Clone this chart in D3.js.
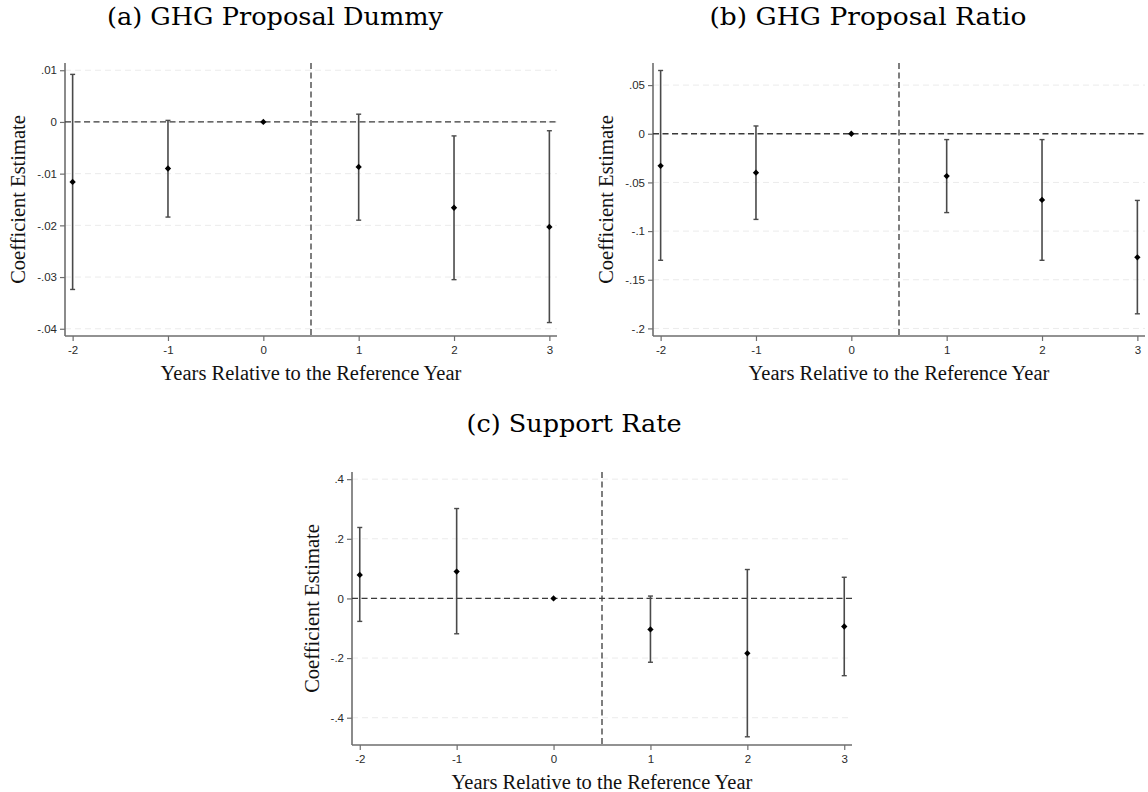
<!DOCTYPE html>
<html>
<head>
<meta charset="utf-8">
<script src="https://cdn.jsdelivr.net/npm/d3@7"></script>
<style>
  body { margin: 0; background: #fff; }
</style>
</head>
<body>
<div class="parentEventStudy"></div>
<script>
// event time (years relative to reference year)
let years = [-2, -1, 0, 1, 2, 3];

// (a) GHG proposal dummy
let dummyCoef = [-0.0116, -0.009, 0, -0.0087, -0.0166, -0.0203];
let dummyLo = [-0.0324, -0.0184, 0, -0.019, -0.0305, -0.0388];
let dummyHi = [0.0092, 0.0003, 0, 0.0015, -0.0027, -0.0017];
let dummyTicks = [0.01, 0, -0.01, -0.02, -0.03, -0.04];

// (b) GHG proposal ratio
let ratioCoef = [-0.033, -0.040, 0, -0.0435, -0.068, -0.127];
let ratioLo = [-0.130, -0.088, 0, -0.081, -0.130, -0.185];
let ratioHi = [0.065, 0.008, 0, -0.006, -0.006, -0.0685];
let ratioTicks = [0.05, 0, -0.05, -0.1, -0.15, -0.2];

// (c) support rate
let supportCoef = [0.079, 0.090, 0, -0.104, -0.184, -0.094];
let supportLo = [-0.077, -0.1185, 0, -0.214, -0.464, -0.259];
let supportHi = [0.238, 0.3015, 0, 0.008, 0.097, 0.071];
let supportTicks = [0.4, 0.2, 0, -0.2, -0.4];

let width = 1148;
let height = 792;

let svg = d3
  .select(".parentEventStudy")
  .append("svg")
  .attr("width", width)
  .attr("height", height);

// stata style labels: ".01", "-.04", "0"
function stataFormat(d) {
  if (d === 0) return "0";
  return String(+d.toFixed(4)).replace("0.", ".");
}

function eventPanel(opts) {
  let attrs = {
    left: opts.left,
    top: opts.top,
    plotWidth: opts.plotWidth,
    plotHeight: 273,
    xDomain: [-2.08, 3.08],
    yDomain: opts.yDomain,
    axisColor: "#6e6e6e",
    gridColor: "#ebebeb",
    barColor: "#4a4a4a",
    refColor: "#3a3a3a",
    tickFont: "Liberation Sans, Arial, sans-serif",
    labelFont: "Liberation Serif, Times New Roman, serif",
    titleFont: "DejaVu Serif, serif",
  };

  let g = svg
    .append("g")
    .attr("transform", "translate(" + attrs.left + "," + attrs.top + ")");

  let x = d3.scaleLinear().domain(attrs.xDomain).range([0, attrs.plotWidth]);
  let y = d3.scaleLinear().domain(attrs.yDomain).range([attrs.plotHeight, 0]);

  // light dashed grid
  g.selectAll(".grid")
    .data(opts.ticks)
    .enter()
    .append("line")
    .attr("x1", 0)
    .attr("x2", attrs.plotWidth)
    .attr("y1", (d) => y(d))
    .attr("y2", (d) => y(d))
    .attr("stroke", attrs.gridColor)
    .attr("stroke-width", 1)
    .attr("stroke-dasharray", "6,4");

  // y axis
  let yAxis = g
    .append("g")
    .call(d3.axisLeft(y).tickValues(opts.ticks).tickFormat(stataFormat).tickSize(5).tickPadding(3));
  // x axis
  let xAxis = g
    .append("g")
    .attr("transform", "translate(0," + attrs.plotHeight + ")")
    .call(d3.axisBottom(x).tickValues(years).tickFormat((d) => String(d)).tickSize(5).tickPadding(5));

  [yAxis, xAxis].forEach(function (ax) {
    ax.select(".domain").attr("stroke", attrs.axisColor).attr("stroke-width", 1.6);
    ax.selectAll(".tick line").attr("stroke", attrs.axisColor).attr("stroke-width", 1.2);
    ax.selectAll(".tick text")
      .attr("fill", "#2a2a2a")
      .attr("font-family", attrs.tickFont)
      .attr("font-size", 11.5);
  });
  // stata axis lines have no end ticks
  yAxis.select(".domain").attr("d", "M0," + attrs.plotHeight + "V0");
  xAxis.select(".domain").attr("d", "M0,0H" + attrs.plotWidth);

  // reference lines
  g.append("line")
    .attr("x1", 0)
    .attr("x2", attrs.plotWidth)
    .attr("y1", y(0))
    .attr("y2", y(0))
    .attr("stroke", attrs.refColor)
    .attr("stroke-width", 1.3)
    .attr("stroke-dasharray", "6,3.5");
  g.append("line")
    .attr("x1", x(0.5))
    .attr("x2", x(0.5))
    .attr("y1", 0)
    .attr("y2", attrs.plotHeight)
    .attr("stroke", attrs.refColor)
    .attr("stroke-width", 1.3)
    .attr("stroke-dasharray", "6,3.5");

  let rows = years.map((yr, i) => ({
    year: yr,
    coef: opts.coef[i],
    lo: opts.lo[i],
    hi: opts.hi[i],
  }));
  let withCi = rows.filter((d) => d.lo !== d.hi);

  // confidence intervals
  g.selectAll(".ci")
    .data(withCi)
    .enter()
    .append("line")
    .attr("x1", (d) => x(d.year))
    .attr("x2", (d) => x(d.year))
    .attr("y1", (d) => y(d.hi))
    .attr("y2", (d) => y(d.lo))
    .attr("stroke", attrs.barColor)
    .attr("stroke-width", 1.6);
  ["hi", "lo"].forEach(function (k) {
    g.selectAll(".cap-" + k)
      .data(withCi)
      .enter()
      .append("line")
      .attr("x1", (d) => x(d.year) - 2.5)
      .attr("x2", (d) => x(d.year) + 2.5)
      .attr("y1", (d) => y(d[k]))
      .attr("y2", (d) => y(d[k]))
      .attr("stroke", attrs.barColor)
      .attr("stroke-width", 1.4);
  });

  // point estimates (small diamonds)
  g.selectAll(".pt")
    .data(rows)
    .enter()
    .append("path")
    .attr("d", d3.symbol().type(d3.symbolSquare).size(20))
    .attr("transform", (d) => "translate(" + x(d.year) + "," + y(d.coef) + ") rotate(45)")
    .attr("fill", "#000");

  // axis titles
  g.append("text")
    .attr("transform", "translate(" + -opts.yLabelOffset + "," + attrs.plotHeight / 2 + ") rotate(-90)")
    .attr("text-anchor", "middle")
    .attr("dy", "0.35em")
    .attr("font-family", attrs.labelFont)
    .attr("font-size", 20.5)
    .attr("fill", "#111")
    .text("Coefficient Estimate");
  g.append("text")
    .attr("x", attrs.plotWidth / 2)
    .attr("y", attrs.plotHeight + 44)
    .attr("text-anchor", "middle")
    .attr("font-family", attrs.labelFont)
    .attr("font-size", 20.5)
    .attr("fill", "#111")
    .text("Years Relative to the Reference Year");

  // panel caption
  svg.append("text")
    .attr("x", opts.titleX)
    .attr("y", opts.titleY)
    .attr("text-anchor", "middle")
    .attr("font-family", attrs.titleFont)
    .attr("font-size", 24)
    .attr("textLength", opts.titleWidth)
    .attr("lengthAdjust", "spacingAndGlyphs")
    .attr("fill", "#000")
    .text(opts.title);
}

eventPanel({
  title: "(a) GHG Proposal Dummy",
  titleX: 275,
  titleY: 25,
  titleWidth: 336,
  left: 65,
  top: 63,
  plotWidth: 492,
  yDomain: [-0.0414, 0.0114],
  ticks: dummyTicks,
  coef: dummyCoef,
  lo: dummyLo,
  hi: dummyHi,
  yLabelOffset: 47,
});

eventPanel({
  title: "(b) GHG Proposal Ratio",
  titleX: 868,
  titleY: 25,
  titleWidth: 317,
  left: 653,
  top: 63,
  plotWidth: 492,
  yDomain: [-0.2078, 0.0727],
  ticks: ratioTicks,
  coef: ratioCoef,
  lo: ratioLo,
  hi: ratioHi,
  yLabelOffset: 47,
});

eventPanel({
  title: "(c) Support Rate",
  titleX: 574,
  titleY: 432,
  titleWidth: 215,
  left: 352,
  top: 472,
  plotWidth: 500,
  yDomain: [-0.4915, 0.424],
  ticks: supportTicks,
  coef: supportCoef,
  lo: supportLo,
  hi: supportHi,
  yLabelOffset: 40,
});
</script>
</body>
</html>
